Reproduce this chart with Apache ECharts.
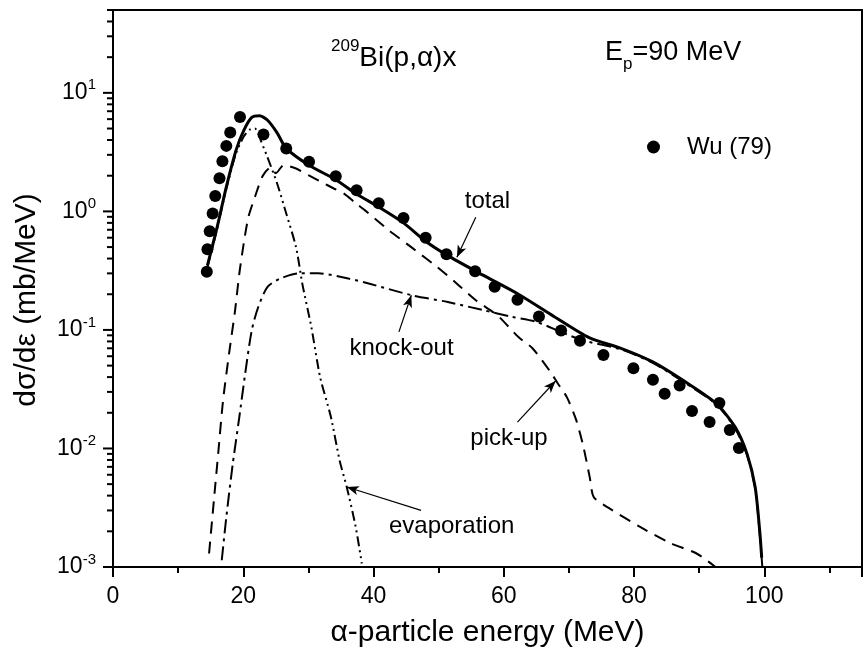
<!DOCTYPE html>
<html><head><meta charset="utf-8">
<script src="https://cdn.jsdelivr.net/npm/echarts@6/dist/echarts.min.js"></script>
<style>html,body{margin:0;padding:0;background:#fff}#c{width:865px;height:654px}</style>
</head><body><div id="c"></div>
<script>
const FONT = '"Liberation Sans", Arial, Helvetica, sans-serif';

// Experimental points: Wu (79)
const expE = [14.4,14.5,14.85,15.3,15.7,16.35,16.8,17.4,18.0,19.5,23.1,26.6,30.1,34.2,37.4,40.8,44.6,48.0,51.2,55.6,58.6,62.1,65.4,68.8,71.7,75.3,79.9,82.9,84.7,87.0,88.9,91.6,93.1,94.7,96.1];
const expV = [0.31,0.48,0.68,0.96,1.35,1.90,2.65,3.57,4.63,6.27,4.46,3.40,2.62,1.98,1.51,1.17,0.88,0.60,0.435,0.313,0.231,0.18,0.13,0.099,0.081,0.0615,0.0475,0.038,0.029,0.034,0.0207,0.0167,0.0242,0.0143,0.0101];

// total
const totE = [14.5,16.0,17.4,18.9,20.1,21.3,22.5,23.7,25.2,26.6,30.1,34.2,37.4,40.8,44.6,48.0,51.2,56.8,62.25,67.7,73.1,78.0,82.8,87.7,92.6,95.5,97.35,98.6,99.3,99.6];
const totV = [0.35,0.74,1.61,3.29,4.84,6.2,6.4,5.9,4.6,3.4,2.45,1.85,1.4,1.09,0.8,0.56,0.43,0.29,0.2,0.13,0.086,0.07,0.054,0.037,0.024,0.0152,0.009,0.0047,0.002,0.0012];

// knock-out
const koE = [16.7,17.4,18.4,19.4,20.3,21.3,22.3,23.7,25.6,28.5,31.5,36.3,39.4,45.9,51.4,56.8,61.2,65.0,68.8,72.0,78.0,82.8,87.7,92.6,95.5,97.35,98.6,99.3,99.7];
const koV = [0.00114,0.00264,0.0075,0.0185,0.043,0.099,0.156,0.23,0.27,0.30,0.30,0.27,0.245,0.196,0.172,0.147,0.129,0.117,0.096,0.082,0.0685,0.053,0.0362,0.0236,0.0149,0.0088,0.0046,0.0019,0.001];

// pick-up
const puE = [14.75,15.5,16.2,16.9,17.9,18.7,19.4,20.1,20.8,21.8,23.0,24.2,25.0,26.2,28.1,30.0,32.0,33.9,35.4,37.3,38.7,42.4,46.2,49.75,52.5,55.7,59.0,62.25,64.4,67.2,68.2,69.7,71.1,72.2,73.2,73.8,75.9,80.8,85.5,89.6,92.5];
const puV = [0.0013,0.0037,0.0097,0.0255,0.068,0.14,0.3,0.55,0.9,1.33,2.0,2.35,2.1,2.45,2.3,2.02,1.77,1.56,1.42,1.17,1.02,0.69,0.48,0.34,0.254,0.178,0.133,0.087,0.07,0.044,0.036,0.027,0.0175,0.0105,0.0057,0.0039,0.0032,0.0022,0.0016,0.0013,0.001];

// evaporation
const evE = [14.5,16.0,17.4,18.9,20.1,21.0,21.8,22.3,22.75,23.7,25.2,26.6,28.1,29.1,30.45,31.8,33.45,34.8,35.9,37.25,38.2];
const evV = [0.34,0.72,1.55,3.1,4.3,4.9,5.0,4.55,3.9,2.88,1.72,0.96,0.5,0.24,0.106,0.04,0.0185,0.0079,0.0047,0.0022,0.00107];

// axis ticks
const xMajorStep = 20;
const xMinorStep = 10;
const yDecades = [-3,-2,-1,0,1];
const yTickValues = [];
yDecades.forEach(k => { for (let m = 1; m <= 9; m++) { const v = m * Math.pow(10, k); if (v <= 50) yTickValues.push(+v.toPrecision(3)); } });

function pairs(a, b) { return a.map((x, i) => [x, b[i]]); }

const chart = echarts.init(document.getElementById('c'), null, {renderer: 'canvas'});

const annotTexts = [
  {name: 'total', coord: [57.5, 1.22]},
  {name: 'knock-out', coord: [44.3, 0.0701]},
  {name: 'pick-up', coord: [60.8, 0.0122]},
  {name: 'evaporation', coord: [52.0, 0.0022]}
];
const annotArrows = [
  [[55.7, 0.893], [52.8, 0.41]],
  [[43.9, 0.0962], [45.8, 0.196]],
  [[62.1, 0.0167], [67.95, 0.0371]],
  [[47.3, 0.003], [35.9, 0.00473]]
];

const option = {
  animation: false,
  backgroundColor: '#fff',
  textStyle: {fontFamily: FONT},
  grid: {left: 113, right: -40, top: 10, bottom: 87, show: true, borderColor: '#000', borderWidth: 2, backgroundColor: 'transparent'},
  legend: {
    data: ['Wu (79)'], left: 642, top: 130, itemWidth: 13, itemHeight: 13, icon: 'circle', selectedMode: false,
    textStyle: {fontSize: 24, fontFamily: FONT, color: '#000', padding: [0, 0, 0, 22]}
  },
  graphic: [{
    type: 'text', x: 27, y: 300, rotation: Math.PI / 2,
    style: {text: 'dσ/dε (mb/MeV)', fontSize: 30, fontFamily: FONT, fill: '#000', align: 'center', verticalAlign: 'middle'}
  }],
  xAxis: [{
    type: 'value', min: 0, max: 115, interval: xMajorStep, position: 'bottom',
    axisLine: {lineStyle: {color: '#000', width: 2}},
    axisTick: {length: 10, lineStyle: {width: 2, color: '#000'}},
    axisLabel: {margin: 18, color: '#000', fontSize: 23, fontFamily: FONT, formatter: v => v > 100 ? '' : String(v)},
    splitLine: {show: false},
    name: 'α-particle energy (MeV)', nameLocation: 'middle', nameGap: 51,
    nameTextStyle: {fontSize: 30, fontFamily: FONT, color: '#000'}
  }, {
    type: 'value', min: 0, max: 115, interval: xMinorStep, position: 'bottom', offset: 0,
    axisLine: {show: false},
    axisTick: {length: 6, lineStyle: {width: 2, color: '#000'}},
    axisLabel: {show: false}, splitLine: {show: false}
  }],
  yAxis: {
    type: 'log', logBase: 10, min: 0.001, max: 50,
    axisLine: {show: true, lineStyle: {color: '#000', width: 2}},
    axisTick: {show: false}, splitLine: {show: false},
    axisLabel: {
      margin: 17,
      formatter: v => { const e = Math.log10(v); const r = Math.round(e); if (Math.abs(e - r) > 1e-6) return ''; return '{m|10}{s|' + r + '}'; },
      rich: {
        m: {fontSize: 23, fontFamily: FONT, color: '#000', lineHeight: 30},
        s: {fontSize: 15, fontFamily: FONT, color: '#000', lineHeight: 15, verticalAlign: 'top'}
      }
    }
  },
  series: [
    {
      type: 'custom', name: 'yticks', silent: true, clip: false, z: 5,
      data: yTickValues.map(v => [0, v]), encode: {x: 0, y: 1},
      renderItem: (params, api) => {
        const v = api.value(1);
        const p = api.coord([0, v]);
        const e = Math.log10(v);
        const len = Math.abs(e - Math.round(e)) < 1e-6 ? 10 : 6;
        return {type: 'line', shape: {x1: p[0] - len, y1: p[1], x2: p[0], y2: p[1]}, style: {stroke: '#000', lineWidth: 2}};
      }
    },
    {type: 'line', name: 'knock-out', data: pairs(koE, koV), showSymbol: false, smooth: 0.25, lineStyle: {color: '#000', width: 2, type: [14, 5, 3, 5]}, z: 2},
    {type: 'line', name: 'pick-up', data: pairs(puE, puV), showSymbol: false, smooth: 0.25, lineStyle: {color: '#000', width: 2, type: [12, 8]}, z: 2},
    {type: 'line', name: 'evaporation', data: pairs(evE, evV), showSymbol: false, smooth: 0.25, lineStyle: {color: '#000', width: 2, type: [10, 4, 2, 4, 2, 4]}, z: 2},
    {type: 'line', name: 'total', data: pairs(totE, totV), showSymbol: false, smooth: 0.25, lineStyle: {color: '#000', width: 3}, z: 3},
    {
      type: 'scatter', name: 'Wu (79)', data: pairs(expE, expV), symbol: 'circle', symbolSize: 12,
      itemStyle: {color: '#000', opacity: 1}, z: 4,
      markPoint: {
        silent: true, symbol: 'circle', symbolSize: 0,
        label: {show: true, position: 'inside', color: '#000', fontSize: 24, fontFamily: FONT, formatter: p => p.name},
        data: annotTexts.map(a => ({name: a.name, coord: a.coord})).concat([
          {name: 'title', coord: [43.1, 19.6], label: {formatter: '{s|209}{m|Bi(p,α)x}', rich: {
            m: {fontSize: 28, fontFamily: FONT, color: '#000', lineHeight: 40},
            s: {fontSize: 17, fontFamily: FONT, color: '#000', lineHeight: 17, verticalAlign: 'top'}}}},
          {name: 'ep', coord: [86, 21.9], label: {formatter: '{m|E}{b|p}{m|=90 MeV}', rich: {
            m: {fontSize: 27, fontFamily: FONT, color: '#000', lineHeight: 40},
            b: {fontSize: 17, fontFamily: FONT, color: '#000', lineHeight: 17, verticalAlign: 'bottom'}}}}
        ])
      },
      markLine: {
        silent: true, symbol: ['none', 'arrow'], symbolSize: [7, 12],
        lineStyle: {color: '#000', width: 1.2, type: 'solid'}, label: {show: false},
        data: annotArrows.map(a => [{coord: a[0]}, {coord: a[1]}])
      }
    }
  ]
};
chart.setOption(option);
</script>
</body></html>
